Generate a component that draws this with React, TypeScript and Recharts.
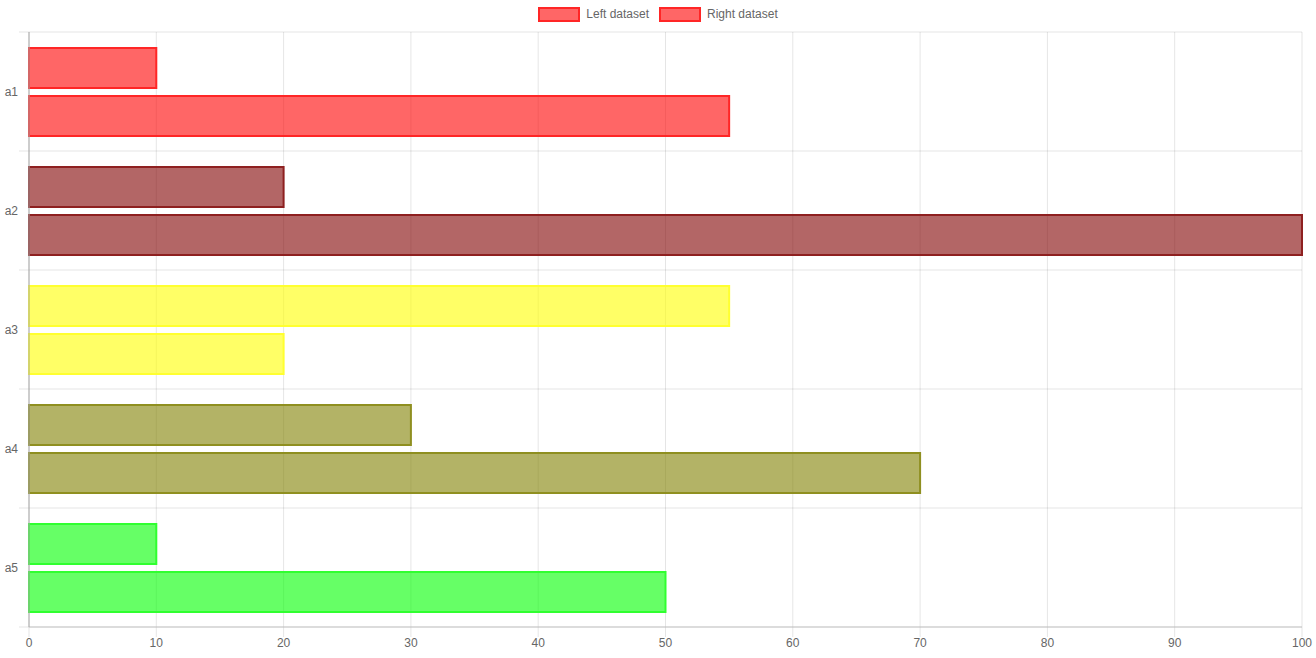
import React from 'react';
import { BarChart, Bar, XAxis, YAxis, CartesianGrid, Cell } from 'recharts';

const categories = ['a1', 'a2', 'a3', 'a4', 'a5'];
const leftValues = [10, 20, 55, 30, 10];
const rightValues = [55, 100, 20, 70, 50];
const xTicks = [0, 10, 20, 30, 40, 50, 60, 70, 80, 90, 100];

const FILLS = ['rgba(255,0,0,0.6)', 'rgba(128,0,0,0.6)', 'rgba(255,255,0,0.6)', 'rgba(128,128,0,0.6)', 'rgba(0,255,0,0.6)'];
const BORDERS = ['#ff2626', '#8e2020', '#ffff30', '#8f8f20', '#30ff30'];

const FONT = '"Liberation Sans", Arial, Helvetica, sans-serif';
const GRID = 'rgba(0,0,0,0.1)';

const data = categories.map((name, i) => ({ name, left: leftValues[i], right: rightValues[i] }));

// grid lines run 10px past the plot, like chart.js tick marks
const hLine = (props: any) => (
  <line key={props.key} x1={props.x1 - 10} y1={props.y1} x2={props.x2} y2={props.y2} stroke={GRID} strokeWidth={1} />
);
const vLine = (props: any) => (
  <line key={props.key} x1={props.x1} y1={props.y1} x2={props.x2} y2={props.y2 + 10} stroke={GRID} strokeWidth={1} />
);

const LegendRow = () => (
  <div style={{ position: 'absolute', top: 8, left: 0, width: 1316, display: 'flex', justifyContent: 'center', gap: 10, fontFamily: FONT, fontSize: 12, color: '#666' }}>
    {['Left dataset', 'Right dataset'].map((label) => (
      <div key={label} style={{ display: 'flex', alignItems: 'center', gap: 6, height: 13 }}>
        <span style={{ width: 38, height: 11, background: FILLS[0], border: `2px solid ${BORDERS[0]}`, display: 'inline-block' }}></span>
        <span style={{ lineHeight: '13px' }}>{label}</span>
      </div>
    ))}
  </div>
);

export default function App() {
  return (
    <div style={{ position: 'absolute', left: 0, top: 0, width: 1316, height: 658, background: '#fff' }}>
      <LegendRow />
      <BarChart
        layout="vertical"
        width={1316}
        height={658}
        data={data}
        margin={{ top: 32, right: 14, bottom: 0, left: 0 }}
        barSize={40}
        barGap={8}
      >
        <CartesianGrid
          stroke={GRID}
          horizontal={hLine}
          vertical={vLine}
          horizontalCoordinatesGenerator={({ offset }: any) =>
            Array.from({ length: categories.length + 1 }, (_, i) => offset.top + (i * offset.height) / categories.length)
          }
        />
        <XAxis
          type="number"
          domain={[0, 100]}
          ticks={xTicks}
          height={31}
          tickSize={10}
          tickMargin={1}
          axisLine={{ stroke: '#c6c6c6' }}
          tickLine={false}
          tick={{ fill: '#666', fontSize: 12, fontFamily: FONT }}
        />
        <YAxis
          type="category"
          dataKey="name"
          width={29}
          tickSize={0}
          tickMargin={11}
          axisLine={{ stroke: '#a8a8a8' }}
          tickLine={false}
          tick={{ fill: '#666', fontSize: 12, fontFamily: FONT }}
        />
        <Bar dataKey="left" name="Left dataset" strokeWidth={2} isAnimationActive={false}>
          {data.map((d, i) => (
            <Cell key={`l-${i}`} fill={FILLS[i]} stroke={BORDERS[i]} />
          ))}
        </Bar>
        <Bar dataKey="right" name="Right dataset" strokeWidth={2} isAnimationActive={false}>
          {data.map((d, i) => (
            <Cell key={`r-${i}`} fill={FILLS[i]} stroke={BORDERS[i]} />
          ))}
        </Bar>
      </BarChart>
    </div>
  );
}
